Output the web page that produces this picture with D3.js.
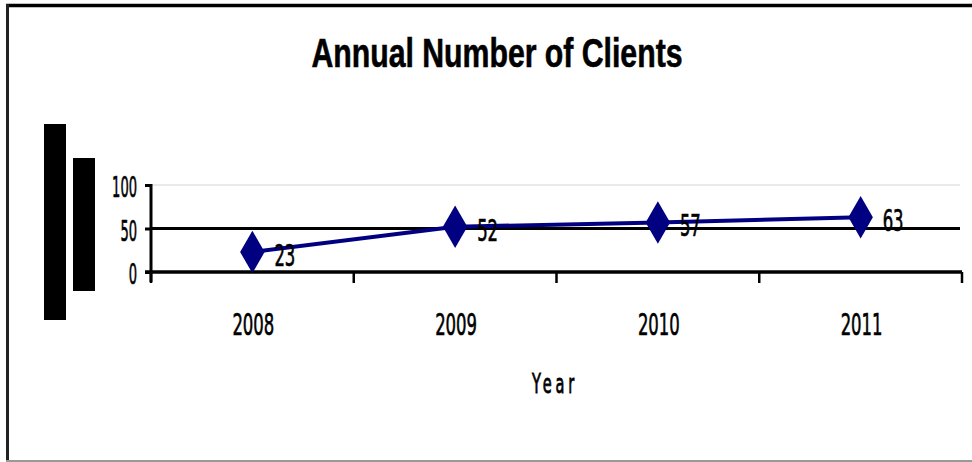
<!DOCTYPE html>
<html>
<head>
<meta charset="utf-8">
<script src="https://cdn.jsdelivr.net/npm/d3@7"></script>
<style>
  html, body { margin: 0; padding: 0; background: #fff; }
  svg { display: block; }
</style>
</head>
<body>
<svg id="chart" width="972" height="462"></svg>
<script>
// ---- data ----
const years = ["2008", "2009", "2010", "2011"];
const clients = [23, 52, 57, 63];
const yTicks = [0, 50, 100];
const titleText = "Annual Number of Clients";
const xTitle = "Year";

const svg = d3.select("#chart");
const W = 972, H = 462;

// frame
svg.append("rect").attr("width", W).attr("height", H).attr("fill", "#fff");
svg.append("line").attr("x1", 6).attr("x2", W).attr("y1", 5.5).attr("y2", 5.5)
  .attr("stroke", "#000").attr("stroke-width", 3.5);
svg.append("line").attr("x1", 7.5).attr("x2", 7.5).attr("y1", 4).attr("y2", H)
  .attr("stroke", "#222").attr("stroke-width", 3);
svg.append("line").attr("x1", 6).attr("x2", W).attr("y1", 461).attr("y2", 461)
  .attr("stroke", "#999").attr("stroke-width", 2);

// title
svg.append("text")
  .attr("x", 497).attr("y", 67)
  .attr("text-anchor", "middle")
  .attr("font-family", "Liberation Sans, Arial, sans-serif")
  .attr("font-weight", "bold")
  .attr("font-size", 40)
  .attr("textLength", 371)
  .attr("lengthAdjust", "spacingAndGlyphs")
  .attr("stroke", "#000").attr("stroke-width", 0.6)
  .text(titleText);

// decorative black blocks (garbled axis title in source)
svg.append("rect").attr("x", 44).attr("y", 124).attr("width", 22).attr("height", 196).attr("fill", "#000");
svg.append("rect").attr("x", 73).attr("y", 158).attr("width", 22).attr("height", 133).attr("fill", "#000");

// scales
const x = d3.scaleBand().domain(years).range([151, 962]);
const y = d3.scaleLinear().domain([0, 100]).range([272, 185]);
const cx = d => x(d) + x.bandwidth() / 2;
const [x0, x1] = x.range();

// gridlines
svg.append("line").attr("x1", x0).attr("x2", 960).attr("y1", y(100)).attr("y2", y(100))
  .attr("stroke", "#d4d4d4").attr("stroke-width", 1);
svg.append("line").attr("x1", x0).attr("x2", 960).attr("y1", y(50)).attr("y2", y(50))
  .attr("stroke", "#000").attr("stroke-width", 3);

// y axis
const yAxis = svg.append("g").attr("transform", `translate(${x0},0)`)
  .call(d3.axisLeft(y).tickValues(yTicks).tickSize(6).tickFormat(""));
yAxis.select(".domain").remove();
yAxis.selectAll(".tick line").attr("stroke", "#000").attr("stroke-width", 3);
svg.append("line").attr("x1", x0).attr("x2", x0).attr("y1", y(100) - 1).attr("y2", y(0) + 10)
  .attr("stroke", "#000").attr("stroke-width", 3);

svg.append("g").selectAll("text").data(yTicks).join("text")
  .attr("x", 137).attr("y", d => y(d) + 12)
  .attr("text-anchor", "end")
  .attr("font-family", "DejaVu Sans, sans-serif")
  .attr("font-size", 29)
  .attr("textLength", d => String(d).length * 8.3)
  .attr("lengthAdjust", "spacingAndGlyphs")
  .attr("stroke", "#000").attr("stroke-width", 0.7)
  .text(d => d);

// x axis
svg.append("line").attr("x1", x0 - 6).attr("x2", x1).attr("y1", y(0)).attr("y2", y(0))
  .attr("stroke", "#000").attr("stroke-width", 3.5);
const bounds = years.map(d => x(d)).concat([x1]);
svg.append("g").selectAll("line").data(bounds).join("line")
  .attr("x1", d => d).attr("x2", d => d)
  .attr("y1", y(0)).attr("y2", y(0) + 11)
  .attr("stroke", "#000").attr("stroke-width", 2.5);

svg.append("g").selectAll("text").data(years).join("text")
  .attr("x", d => cx(d) + 1).attr("y", 335)
  .attr("text-anchor", "middle")
  .attr("font-family", "DejaVu Sans, sans-serif")
  .attr("font-size", 31)
  .attr("textLength", d => d.length * 10.5)
  .attr("lengthAdjust", "spacingAndGlyphs")
  .attr("stroke", "#000").attr("stroke-width", 0.7)
  .text(d => d);

svg.append("text")
  .attr("x", 555).attr("y", 393)
  .attr("text-anchor", "middle")
  .attr("font-family", "DejaVu Sans, sans-serif")
  .attr("font-size", 27)
  .attr("letter-spacing", 7)
  .attr("textLength", 46)
  .attr("lengthAdjust", "spacingAndGlyphs")
  .attr("stroke", "#000").attr("stroke-width", 0.9)
  .text(xTitle);

// series line
const pts = years.map((d, i) => [cx(d), y(clients[i])]);
svg.append("path")
  .attr("d", d3.line()(pts))
  .attr("fill", "none")
  .attr("stroke", "#000080")
  .attr("stroke-width", 4)
  .attr("stroke-linejoin", "round");

// markers
svg.append("g").selectAll("path").data(pts).join("path")
  .attr("transform", p => `translate(${p[0]},${p[1]})`)
  .attr("d", d3.symbol(d3.symbolDiamond, 520)())
  .attr("fill", "#000080");

// data labels
svg.append("g").selectAll("text").data(clients).join("text")
  .attr("x", (d, i) => pts[i][0] + 22)
  .attr("y", (d, i) => pts[i][1] + 14)
  .attr("font-family", "DejaVu Sans, sans-serif")
  .attr("font-size", 30)
  .attr("textLength", d => String(d).length * 10.5)
  .attr("lengthAdjust", "spacingAndGlyphs")
  .attr("fill", "#000")
  .attr("stroke", "#000").attr("stroke-width", 0.7)
  .text(d => d);
</script>
</body>
</html>
